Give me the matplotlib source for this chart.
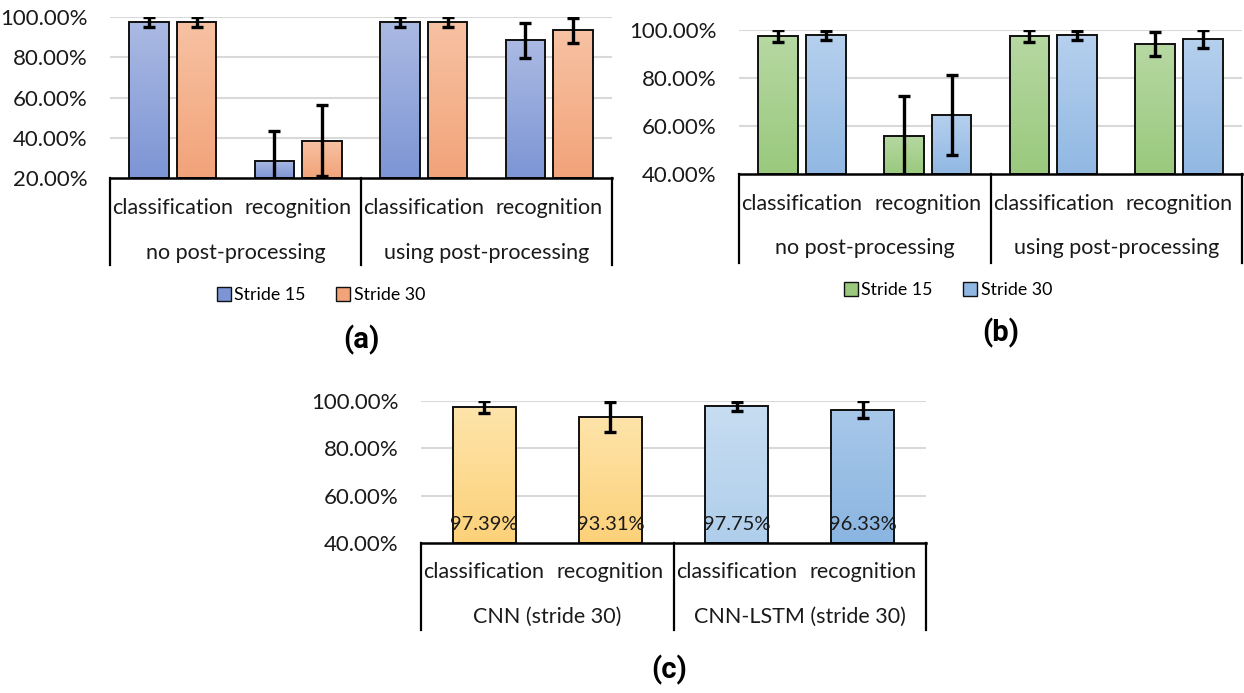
import numpy as np
import matplotlib
matplotlib.use("Agg")
import matplotlib.pyplot as plt
from matplotlib.colors import LinearSegmentedColormap
from matplotlib.patches import Patch
import matplotlib.transforms as mtransforms

plt.rcParams['font.family'] = ['Lato', 'DejaVu Sans']

# ---------------- data ----------------
tasks = ["classification", "recognition", "classification", "recognition"]
groups_ab = ["no post-processing", "using post-processing"]
groups_c = ["CNN (stride 30)", "CNN-LSTM (stride 30)"]

a_stride15 = [97.4, 28.6, 97.4, 88.4]
a_stride15_err = [2.5, 14.9, 2.5, 8.7]
a_stride30 = [97.39, 38.5, 97.39, 93.31]
a_stride30_err = [2.5, 17.6, 2.5, 6.3]

b_stride15 = [97.4, 55.8, 97.4, 94.0]
b_stride15_err = [2.5, 16.7, 2.5, 5.0]
b_stride30 = [97.75, 64.6, 97.75, 96.33]
b_stride30_err = [2.0, 16.7, 2.0, 3.7]

c_values = [97.39, 93.31, 97.75, 96.33]
c_err = [2.5, 6.3, 2.0, 3.6]
c_labels = ["97.39%", "93.31%", "97.75%", "96.33%"]

series_names = ["Stride 15", "Stride 30"]
panel_titles = ["(a)", "(b)", "(c)"]

# ---------------- styling ----------------
W, H = 1244, 693
fig = plt.figure(figsize=(W / 100, H / 100), dpi=100)

def fx(px):
    return px / W

def fy(py):
    return 1 - py / H

BLUE_A = ("#abbae3", "#7d95d5")
SALMON = ("#f7c2a3", "#f2a379")
GREEN = ("#b6d8a2", "#9ac97d")
BLUE_B = ("#b6d0ee", "#91b8e3")
ORANGE = ("#fee4aa", "#fcd179")
LBLUE = ("#c7ddf1", "#afceeb")
DBLUE = ("#a8c8e9", "#8ab5e1")

TXT = "#1a1a1a"
FS_TICK = 16
FS_CAT = 15.5
FS_LEG = 12.8
FS_TITLE = 21


def grad_bar(ax, x, val, width, ymin, cols, err=None):
    b = ax.bar(x, val - ymin, bottom=ymin, width=width, facecolor="none",
               edgecolor="#111111", linewidth=1.4, zorder=3)[0]
    cmap = LinearSegmentedColormap.from_list("g", [cols[1], cols[0]])
    grad = np.linspace(0, 1, 256).reshape(-1, 1)
    im = ax.imshow(grad, cmap=cmap, origin="lower", aspect="auto",
                   extent=(x - width / 2, x + width / 2, ymin, val), zorder=2)
    im.set_clip_path(b)
    if err is not None:
        ax.errorbar(x, val, yerr=err, fmt="none", ecolor="#000000",
                    elinewidth=2.4, capsize=4, capthick=2.4, zorder=4)
    return b


def make_axes(left, right, top, bottom, ymin, yticks, box_bottom, row1, row2,
              groups):
    ax = fig.add_axes([fx(left), fy(bottom), fx(right - left), (bottom - top) / H])
    ax.set_xlim(-0.5, 3.5)
    ax.set_ylim(ymin, 100)
    ax.set_yticks(yticks)
    ax.set_yticklabels([f"{t:.2f}%" for t in yticks], fontsize=FS_TICK, color=TXT)
    ax.tick_params(axis="y", length=0, pad=16)
    ax.set_xticks([])
    for s in ["top", "right", "left"]:
        ax.spines[s].set_visible(False)
    ax.spines["bottom"].set_linewidth(1.8)
    ax.spines["bottom"].set_color("#000000")
    ax.spines["bottom"].set_zorder(5)
    for t in yticks[1:]:
        ax.axhline(t, color="#d9d9d9", linewidth=1.5, zorder=1)
    # multi-level category box
    trans = mtransforms.blended_transform_factory(ax.transData, ax.transAxes)
    ph = bottom - top
    yb = -(box_bottom - bottom) / ph
    for xv in [-0.5, 1.5, 3.5]:
        ax.plot([xv, xv], [0, yb], color="#000000", linewidth=1.6,
                transform=trans, clip_on=False)
    y1 = -(row1 - bottom) / ph
    y2 = -(row2 - bottom) / ph
    for i, t in enumerate(tasks):
        ax.text(i, y1, t, transform=trans, ha="center", va="center",
                fontsize=FS_CAT, color=TXT)
    for i, g in enumerate(groups):
        ax.text(0.5 + 2 * i, y2, g, transform=trans, ha="center", va="center",
                fontsize=FS_CAT, color=TXT)
    return ax


x = np.arange(4)
bw = 0.315
off = 0.19

leg_kw = dict(loc="center", ncol=2, frameon=False, fontsize=FS_LEG,
              handlelength=0.8, handleheight=0.8, handletextpad=0.2,
              columnspacing=1.7, borderaxespad=0)

# ---------- panel (a) ----------
axa = make_axes(110, 612, 17, 178, 20, [20, 40, 60, 80, 100], 265, 208, 253,
                groups_ab)
for i in range(4):
    grad_bar(axa, x[i] - off, a_stride15[i], bw, 20, BLUE_A, a_stride15_err[i])
    grad_bar(axa, x[i] + off, a_stride30[i], bw, 20, SALMON, a_stride30_err[i])
handles = [Patch(facecolor=BLUE_A[1], edgecolor="#111111", label=series_names[0]),
           Patch(facecolor=SALMON[1], edgecolor="#111111", label=series_names[1])]
fig.legend(handles=handles, bbox_to_anchor=(fx(321), fy(295)), **leg_kw)
fig.text(fx(361), fy(340), panel_titles[0], ha="center", va="center",
         fontsize=FS_TITLE, fontweight="bold", family="Roboto")

# ---------- panel (b) ----------
axb = make_axes(739, 1242, 30, 174, 40, [40, 60, 80, 100], 263, 204, 248,
                groups_ab)
for i in range(4):
    grad_bar(axb, x[i] - off, b_stride15[i], bw, 40, GREEN, b_stride15_err[i])
    grad_bar(axb, x[i] + off, b_stride30[i], bw, 40, BLUE_B, b_stride30_err[i])
handles = [Patch(facecolor=GREEN[1], edgecolor="#111111", label=series_names[0]),
           Patch(facecolor=BLUE_B[1], edgecolor="#111111", label=series_names[1])]
fig.legend(handles=handles, bbox_to_anchor=(fx(948), fy(290)), **leg_kw)
fig.text(fx(1001), fy(333), panel_titles[1], ha="center", va="center",
         fontsize=FS_TITLE, fontweight="bold", family="Roboto")

# ---------- panel (c) ----------
axc = make_axes(421, 926, 401, 543, 40, [40, 60, 80, 100], 630, 572, 617,
                groups_c)
c_cols = [ORANGE, ORANGE, LBLUE, DBLUE]
for i in range(4):
    grad_bar(axc, x[i], c_values[i], 0.5, 40, c_cols[i], c_err[i])
    axc.text(x[i], 48, c_labels[i], ha="center", va="center", fontsize=14.5,
             color="#1a1a1a", zorder=6)
fig.text(fx(669), fy(670), panel_titles[2], ha="center", va="center",
         fontsize=FS_TITLE, fontweight="bold", family="Roboto")

fig.savefig("out.png", dpi=100)
